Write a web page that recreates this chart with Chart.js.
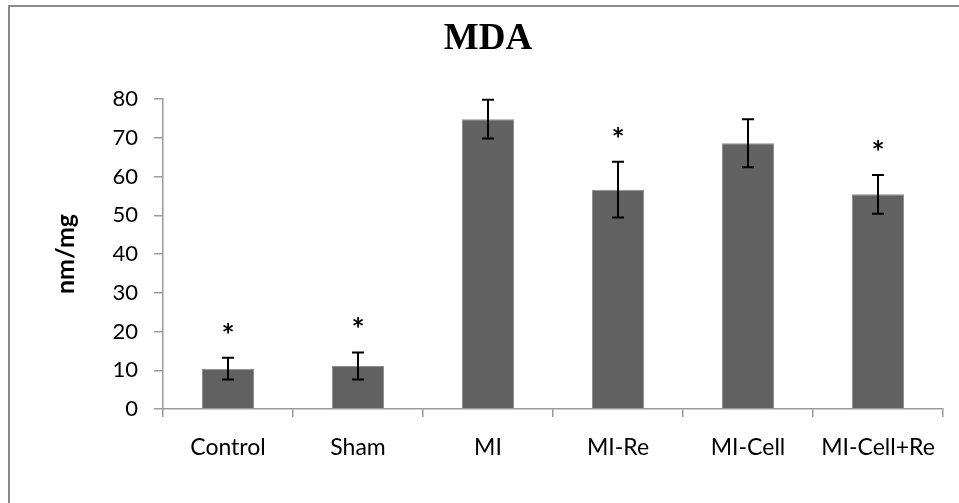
<!DOCTYPE html>
<html>
<head>
<meta charset="utf-8">
<script src="https://cdn.jsdelivr.net/npm/chart.js@4/dist/chart.umd.min.js"></script>
<style>
  html, body { margin: 0; padding: 0; background: #fff; }
  #wrap { position: absolute; left: 0; top: 0; width: 959px; height: 503px; }
  #frame { position: absolute; left: 8px; top: 5px; right: 0; bottom: 0;
           border-left: 2px solid #8a8a8a; border-top: 2px solid #8a8a8a; pointer-events: none; }
</style>
</head>
<body>
<div id="wrap"><canvas id="c"></canvas></div>
<div id="frame"></div>
<script>
const categories = ['Control', 'Sham', 'MI', 'MI-Re', 'MI-Cell', 'MI-Cell+Re'];
const mdaValues  = [10.4, 11.1, 74.8, 56.6, 68.6, 55.4];
const mdaErrors  = [2.8, 3.5, 5.0, 7.2, 6.2, 5.0];
const significant = [true, true, false, true, false, true];
const yTicks = [0, 10, 20, 30, 40, 50, 60, 70, 80];

const labelFont = "Lato, 'Open Sans', sans-serif";

const errorBarPlugin = {
  id: 'errorBars',
  afterDatasetsDraw(chart) {
    const ctx = chart.ctx;
    const meta = chart.getDatasetMeta(0);
    const ys = chart.scales.y;
    ctx.save();
    ctx.strokeStyle = '#000';
    ctx.lineWidth = 2;
    meta.data.forEach((bar, i) => {
      const x = bar.x;
      const top = ys.getPixelForValue(mdaValues[i] + mdaErrors[i]);
      const bot = ys.getPixelForValue(mdaValues[i] - mdaErrors[i]);
      const cap = 6;
      ctx.beginPath();
      ctx.moveTo(x, top); ctx.lineTo(x, bot);
      ctx.moveTo(x - cap, top); ctx.lineTo(x + cap, top);
      ctx.moveTo(x - cap, bot); ctx.lineTo(x + cap, bot);
      ctx.stroke();
      if (significant[i]) {
        ctx.fillStyle = '#000';
        ctx.font = "bold 31px " + labelFont;
        ctx.textAlign = 'center';
        ctx.textBaseline = 'middle';
        ctx.fillText('*', x, top - 22);
      }
    });
    ctx.restore();
  }
};

new Chart(document.getElementById('c'), {
  type: 'bar',
  data: {
    labels: categories,
    datasets: [{
      data: mdaValues,
      backgroundColor: '#616161',
      borderColor: '#8f8f8f',
      borderWidth: 1,
      categoryPercentage: 1.0,
      barPercentage: 0.4
    }]
  },
  options: {
    responsive: true,
    maintainAspectRatio: false,
    animation: false,
    layout: { padding: { left: 33, right: 16, top: 0, bottom: 0 } },
    plugins: {
      legend: { display: false },
      tooltip: { enabled: false },
      title: {
        display: true,
        text: 'MDA',
        color: '#000',
        font: { family: "'Liberation Serif', 'Times New Roman', serif", size: 37, weight: 'bold', lineHeight: 1.2 },
        padding: { top: 17, bottom: 37.6 }
      }
    },
    scales: {
      x: {
        afterFit(scale) { scale.height = 94; },
        grid: { display: true, drawOnChartArea: false, drawTicks: true, tickLength: 8, color: '#9a9a9a', lineWidth: 1.5, offset: true },
        border: { display: true, color: '#9a9a9a', width: 1.5 },
        ticks: { color: '#000', font: { family: labelFont, size: 23 }, padding: 17, maxRotation: 0 }
      },
      y: {
        min: 0, max: 80,
        afterFit(scale) { scale.width = 130; },
        afterBuildTicks(scale) { scale.ticks = yTicks.map(v => ({ value: v })); },
        grid: { display: true, drawOnChartArea: false, drawTicks: true, tickLength: 9, color: '#9a9a9a', lineWidth: 1.5 },
        border: { display: true, color: '#9a9a9a', width: 1.5 },
        ticks: { color: '#000', font: { family: labelFont, size: 22 }, padding: 16 },
        title: {
          display: true,
          text: 'nm/mg',
          color: '#000',
          font: { family: labelFont, size: 25, weight: 'bold', lineHeight: 1.2 },
          padding: { top: 18, bottom: 0 }
        }
      }
    }
  },
  plugins: [errorBarPlugin]
});
</script>
</body>
</html>
